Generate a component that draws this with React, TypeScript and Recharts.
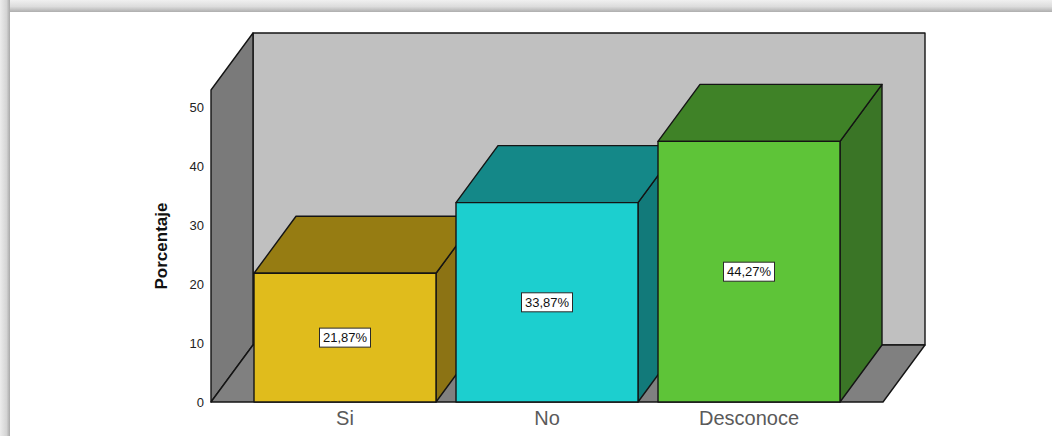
import { BarChart, Bar, XAxis, YAxis, ReferenceArea, LabelList } from "recharts";

const categories = ["Si", "No", "Desconoce"];
const percentages = [21.87, 33.87, 44.27];
const yTicks = [0, 10, 20, 30, 40, 50];

const frontColors = ["#e0bc1c", "#1ccfcf", "#5ec438"];
const topColors = ["#967c12", "#148888", "#3f8227"];
const sideColors = ["#8c7314", "#127a7a", "#3a7526"];

const chartData = categories.map((name, i) => ({ name, value: percentages[i] }));

const DEPTH_X = 42;
const DEPTH_Y = 57;
const BAND_PADDING = 33;
const EDGE = "#141414";
const FONT = "'Liberation Sans', Arial, sans-serif";

const pts = (list: number[][]) => list.map((p) => p.join(",")).join(" ");

// paredes y piso del grafico 3D
const Walls = ({ x: bandX, y, width: bandWidth, height }: any) => {
  // la ReferenceArea llega recortada al padding del eje X
  const x = bandX - BAND_PADDING;
  const width = bandWidth + BAND_PADDING * 2;
  const bottom = y + height;
  const right = x + width;
  return (
    <g stroke={EDGE} strokeWidth={1.4} strokeLinejoin="round">
      <polygon
        fill="#c0c0c0"
        points={pts([
          [x + DEPTH_X, y - DEPTH_Y],
          [right + DEPTH_X, y - DEPTH_Y],
          [right + DEPTH_X, bottom - DEPTH_Y],
          [x + DEPTH_X, bottom - DEPTH_Y],
        ])}
      />
      <polygon
        fill="#7a7a7a"
        points={pts([
          [x, y],
          [x + DEPTH_X, y - DEPTH_Y],
          [x + DEPTH_X, bottom - DEPTH_Y],
          [x, bottom],
        ])}
      />
      <polygon
        fill="#808080"
        points={pts([
          [x, bottom],
          [x + DEPTH_X, bottom - DEPTH_Y],
          [right + DEPTH_X, bottom - DEPTH_Y],
          [right, bottom],
        ])}
      />
    </g>
  );
};

const Box3D = ({ x, y, width, height, index }: any) => {
  const r = x + width;
  const b = y + height;
  return (
    <g stroke={EDGE} strokeWidth={1.4} strokeLinejoin="round">
      <polygon
        fill={sideColors[index]}
        points={pts([
          [r, y],
          [r + DEPTH_X, y - DEPTH_Y],
          [r + DEPTH_X, b - DEPTH_Y],
          [r, b],
        ])}
      />
      <polygon
        fill={topColors[index]}
        points={pts([
          [x, y],
          [x + DEPTH_X, y - DEPTH_Y],
          [r + DEPTH_X, y - DEPTH_Y],
          [r, y],
        ])}
      />
      <rect x={x} y={y} width={width} height={height} fill={frontColors[index]} />
    </g>
  );
};

const BoxedLabel = ({ x, y, width, height, value }: any) => {
  const cx = x + width / 2;
  const cy = y + height / 2;
  return (
    <g>
      <rect
        x={cx - 25.5}
        y={cy - 9.5}
        width={51}
        height={19}
        fill="#fff"
        stroke="#2a2a2a"
        strokeWidth={1}
      />
      <text
        x={cx}
        y={cy + 4.5}
        textAnchor="middle"
        fontSize={13}
        fontFamily={FONT}
        fill="#111"
      >
        {value.toFixed(2).replace(".", ",")}%
      </text>
    </g>
  );
};

const App = () => {
  return (
    <div
      style={{
        position: "absolute",
        left: 0,
        top: 0,
        width: 1052,
        height: 436,
        background: "#fff",
      }}
    >
      {/* sombra del marco */}
      <div
        style={{
          position: "absolute",
          left: 0,
          top: 0,
          width: 1052,
          height: 12,
          background: "linear-gradient(to bottom, #f0f0f0, #dcdcdc 55%, #aeaeae)",
        }}
      />
      <div
        style={{
          position: "absolute",
          left: 0,
          top: 0,
          width: 10,
          height: 436,
          background: "linear-gradient(to right, #ececec, #d4d4d4 65%, #a8a8a8)",
        }}
      />
      <div style={{ position: "absolute", left: 0, top: 0 }}>
        <BarChart
          width={1052}
          height={436}
          data={chartData}
          margin={{ top: 90, right: 169, bottom: 0, left: 151 }}
          barSize={182}
        >
          <ReferenceArea y1={0} y2={53} shape={<Walls />} ifOverflow="visible" />
          <XAxis
            dataKey="name"
            height={34}
            padding={{ left: BAND_PADDING, right: BAND_PADDING }}
            axisLine={false}
            tickLine={false}
            tickSize={0}
            tickMargin={9}
            tick={{ fontSize: 20, fontFamily: FONT, fill: "#5a5a5a" }}
          />
          <YAxis
            width={60}
            domain={[0, 53]}
            ticks={yTicks}
            axisLine={false}
            tickLine={false}
            tickSize={0}
            tickMargin={7}
            tick={{ fontSize: 13, fontFamily: FONT, fill: "#222" }}
            label={{
              value: "Porcentaje",
              angle: -90,
              position: "insideLeft",
              dx: 5,
              style: {
                fontSize: 17,
                fontWeight: "bold",
                fontFamily: FONT,
                fill: "#111",
                textAnchor: "middle",
              },
            }}
          />
          <Bar dataKey="value" shape={<Box3D />} isAnimationActive={false}>
            <LabelList dataKey="value" content={<BoxedLabel />} />
          </Bar>
        </BarChart>
      </div>
    </div>
  );
};

export default App;
